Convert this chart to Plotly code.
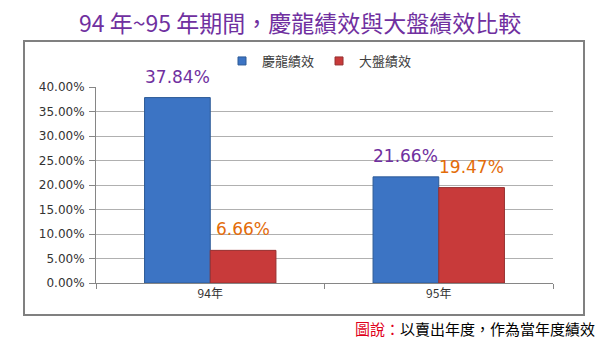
import plotly.graph_objects as go

categories = ["94年", "95年"]
series_names = ["慶龍績效", "大盤績效"]
qinglong = [0.3784, 0.2166]
dapan = [0.0666, 0.1947]
label_colors = ["#7030A0", "#E36C09"]
bar_colors = ["#3C74C4", "#C83A3A"]
bar_lines = ["#2C5A96", "#963030"]
y_ticks = [0, 0.05, 0.10, 0.15, 0.20, 0.25, 0.30, 0.35, 0.40]

W, H = 603, 358
L, R, T, B = 96, 50, 87, 75
pw, ph = W - L - R, H - T - B
BARGAP = 0.425
bar_px = pw / len(categories) * (1 - BARGAP) / 2

def px(x):
    return (x - L) / pw

def py(y):
    return (H - B - y) / ph

fig = go.Figure()
series = [qinglong, dapan]
for i, (name, vals, col, lc, tc) in enumerate(zip(series_names, series, bar_colors, bar_lines, label_colors)):
    fig.add_trace(go.Bar(
        x=categories, y=vals, name=name, showlegend=False,
        marker=dict(color=col, line=dict(color=lc, width=1)),
        cliponaxis=False,
    ))
    # legend proxy
    fig.add_trace(go.Scatter(
        x=[None], y=[None], mode="markers", name=name,
        marker=dict(symbol="square", size=8, color=col, line=dict(color=lc, width=1)),
    ))
    shift = (i - 0.5) * bar_px
    for c, v in zip(categories, vals):
        fig.add_annotation(x=c, y=v, xref="x", yref="y", xshift=shift, yshift=21,
                           xanchor="center", yanchor="middle", showarrow=False,
                           text=f"{v*100:.2f}%",
                           font=dict(family="DejaVu Sans, Verdana", size=17, color=tc))

fig.update_layout(
    width=W, height=H,
    margin=dict(l=L, r=R, t=T, b=B),
    paper_bgcolor="white", plot_bgcolor="white",
    barmode="group", bargap=BARGAP, bargroupgap=0,
    showlegend=True,
    legend=dict(orientation="h", x=px(222), xanchor="left", y=py(61), yanchor="middle",
                font=dict(family="Noto Sans CJK TC", size=13, color="#404040"),
                itemwidth=30, traceorder="normal", tracegroupgap=0),
)
fig.update_yaxes(
    range=[0, 0.4], tickvals=y_ticks, ticktext=[f"{v*100:.2f}%" for v in y_ticks],
    showgrid=True, gridcolor="#B0B0B0", gridwidth=1,
    showline=True, linecolor="#868686", linewidth=1,
    ticks="outside", ticklen=6, tickcolor="#868686",
    tickfont=dict(family="DejaVu Sans, Verdana", size=12, color="#333333"),
    ticklabelstandoff=2,
    zeroline=False,
)
fig.update_xaxes(
    showline=True, linecolor="#868686", linewidth=1,
    ticks="outside", ticklen=5, tickcolor="#868686", tickson="boundaries",
    tickfont=dict(family="Noto Sans CJK TC", size=12, color="#333333"),
)

# outer chart border
fig.add_shape(type="rect", xref="paper", yref="paper",
              x0=px(24), x1=px(584), y0=py(315), y1=py(41),
              line=dict(color="#808080", width=2), fillcolor="rgba(0,0,0,0)", layer="below")

fig.add_annotation(xref="paper", yref="paper", x=px(300), y=py(22), xanchor="center", yanchor="middle",
                   text="94 年~95 年期間，慶龍績效與大盤績效比較", showarrow=False,
                   font=dict(family="Noto Sans CJK TC", size=23, color="#7030A0"))
fig.add_annotation(xref="paper", yref="paper", x=px(597), y=py(328), xanchor="right", yanchor="middle",
                   text="<span style='color:#E0001B'>圖說：</span>以賣出年度，作為當年度績效", showarrow=False,
                   font=dict(family="Noto Sans CJK TC", size=15, color="#000000"))

fig.write_html("out.html")
